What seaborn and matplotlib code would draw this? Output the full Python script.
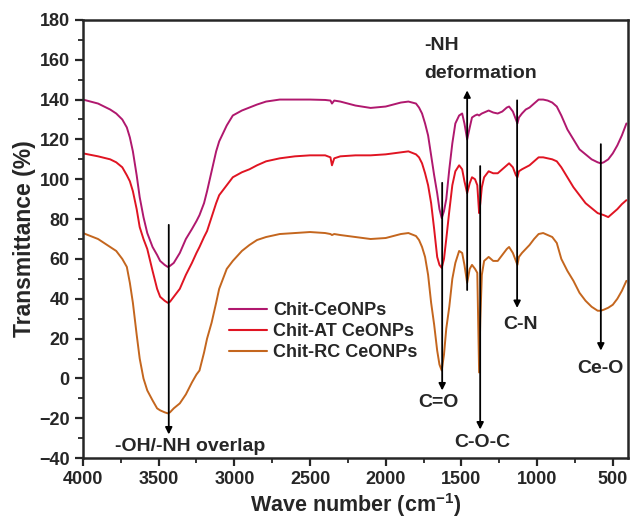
import numpy as np
import pandas as pd
import matplotlib
matplotlib.use('Agg')
import matplotlib.pyplot as plt
from matplotlib.ticker import MultipleLocator
import seaborn as sns

# ---------------------------
# data
# ---------------------------
wavenumber = [4000, 3900, 3820, 3780, 3740, 3710, 3690, 3670, 3645, 3625, 3600, 3575,
              3540, 3510, 3490, 3460, 3440, 3425, 3400, 3360, 3320, 3280, 3250, 3230,
              3200, 3180, 3150, 3120, 3100, 3050, 3010, 2950, 2900, 2850, 2790, 2700,
              2600, 2500, 2400, 2365, 2355, 2340, 2300, 2200, 2100, 2000, 1900, 1850,
              1800, 1780, 1760, 1740, 1720, 1700, 1680, 1660, 1645, 1630, 1615, 1600,
              1580, 1560, 1540, 1515, 1495, 1480, 1462, 1445, 1430, 1410, 1395, 1383,
              1375, 1365, 1350, 1320, 1290, 1260, 1230, 1200, 1185, 1160, 1140, 1130,
              1120, 1100, 1075, 1050, 1020, 990, 960, 930, 900, 870, 840, 800,
              760, 720, 680, 640, 600, 580, 560, 530, 500, 470, 440, 410]

chit_ceonps = [140, 138, 135, 133, 130, 126, 121, 114, 102, 91, 81, 73,
               66, 62, 59, 57, 56, 56.5, 58, 63, 70, 75, 79, 82,
               88, 94, 104, 114, 119, 127, 132, 134.5, 136, 137.5, 139, 140,
               140, 140, 139.8, 139.5, 138, 139.5, 139, 137, 135.8, 136.5, 138.5, 139,
               138, 136, 133, 128, 122, 112, 102, 93, 85, 80.5, 84, 90,
               105, 118, 128, 132, 133, 128, 120, 126, 131, 132, 132.5, 132,
               132.5, 133, 133.5, 134.5, 133.5, 133, 134, 136, 136.5, 134, 130, 128,
               131, 133, 135, 136, 138, 140, 140, 139.5, 138.5, 136.5, 132, 125,
               120, 115, 112.5, 110, 108.5, 108, 108.5, 110, 113, 117, 122, 128]

chit_at_ceonps = [113, 111.5, 110, 108.5, 106, 102, 99, 94, 85, 76, 70, 65,
                  54, 45, 41, 39, 38, 38.5, 41, 45, 52, 58, 63, 66,
                  71, 74, 81, 88, 92, 97, 101, 103.5, 105, 107, 109, 110.5,
                  111.5, 112, 112, 111, 107, 110.5, 111.5, 112, 112, 112.5, 113.5, 114,
                  112.5, 111, 108, 103, 97, 88, 75, 61, 57, 55.5, 60, 70,
                  84, 97, 104, 107, 105, 99, 93, 98, 101, 100, 97, 83,
                  88, 96, 101, 104, 103, 103, 105, 107, 108, 106, 102, 101,
                  104, 105, 106, 107, 109, 111, 111, 110.5, 110, 109, 106, 101,
                  96, 92, 88, 85.5, 83, 82.5, 82, 81, 83, 85, 87.5, 89.5]

chit_rc_ceonps = [73, 70, 66, 64, 60, 56, 48, 38, 22, 10, 0, -6,
                  -11, -15, -16, -17, -17.5, -17, -15, -12.5, -8, -2, 2, 4,
                  13, 20, 28, 38, 45, 55, 59, 64, 67, 69.5, 71, 72.5,
                  73, 73.5, 73, 72.5, 72, 72.5, 72, 71, 70, 70.5, 72.5, 73,
                  71.5, 69.5, 66, 61, 52, 38, 27, 14, 7, 4, 12, 25,
                  36, 50, 58, 64, 63, 57, 48, 55, 57, 55, 53, 3,
                  30, 52, 59, 61, 59, 59, 62, 65, 66, 63, 59, 57,
                  61, 63, 65, 67, 70, 72.5, 73, 72, 71, 68, 60, 54,
                  49, 43, 39, 36, 34, 34, 34.5, 35.5, 37, 40, 44, 49]

samples = ['Chit-CeONPs', 'Chit-AT CeONPs', 'Chit-RC CeONPs']
colors = ['#B0186E', '#E01422', '#C4661E']

# band assignments: (label, x of arrow, arrow tail y, arrow head y, text x, text y)
bands = [
    ('-OH/-NH overlap', 3433, 78.5, -29.5, 3290, -34),
    ('C=O', 1627, 99.6, -7.4, 1653, -12),
    ('C-O-C', 1376, 108, -27, 1363, -32),
    ('C-N', 1132, 141, 34, 1106, 27),
    ('Ce-O', 579, 119, 12.6, 579, 5),
]

df = pd.DataFrame({
    'Wave number': wavenumber * 3,
    'Transmittance': chit_ceonps + chit_at_ceonps + chit_rc_ceonps,
    'Sample': [s for s in samples for _ in wavenumber],
})

# ---------------------------
# style
# ---------------------------
sns.set_style('ticks')
plt.rcParams['font.family'] = ['Liberation Sans', 'DejaVu Sans']
plt.rcParams['font.weight'] = 'bold'
plt.rcParams['mathtext.fontset'] = 'custom'
plt.rcParams['mathtext.rm'] = 'Liberation Sans:bold'
plt.rcParams['mathtext.bf'] = 'Liberation Sans:bold'
plt.rcParams['mathtext.default'] = 'bf'

fig = plt.figure(figsize=(6.33, 5.23), dpi=100)
ax = fig.add_axes([0.131, 0.124, 0.861, 0.838])

sns.lineplot(data=df, x='Wave number', y='Transmittance', hue='Sample',
             palette=colors, hue_order=samples, estimator=None, lw=1.4, ax=ax)

ax.set_xlim(4000, 400)
ax.set_ylim(-40, 180)
ax.xaxis.set_major_locator(MultipleLocator(500))
ax.xaxis.set_minor_locator(MultipleLocator(250))
ax.yaxis.set_major_locator(MultipleLocator(20))
ax.yaxis.set_minor_locator(MultipleLocator(10))
ax.tick_params(which='major', direction='out', length=6, width=1.6, labelsize=13)
ax.tick_params(which='minor', direction='out', length=3.5, width=1.3)
for lab in ax.get_xticklabels() + ax.get_yticklabels():
    lab.set_fontweight('bold')
for sp in ax.spines.values():
    sp.set_linewidth(1.8)
    sp.set_visible(True)

ax.set_xlabel(r'Wave number (cm$^{-1}$)', fontsize=15.5, fontweight='bold', labelpad=2)
ax.set_ylabel('Transmittance (%)', fontsize=16.5, fontweight='bold', labelpad=2)

# arrows and labels for the bands
for label, xa, y0, y1, xt, yt in bands:
    ax.annotate('', xy=(xa, y1), xytext=(xa, y0),
                arrowprops=dict(arrowstyle='-|>', color='black', lw=1.3, mutation_scale=10))
    ax.text(xt, yt, label, ha='center', va='center', fontsize=14, fontweight='bold')

# -NH deformation points upwards
ax.annotate('', xy=(1462, 146), xytext=(1462, 43),
            arrowprops=dict(arrowstyle='-|>', color='black', lw=1.3, mutation_scale=10))
ax.text(1745, 167, '-NH', ha='left', va='center', fontsize=14, fontweight='bold')
ax.text(1745, 153, 'deformation', ha='left', va='center', fontsize=14, fontweight='bold')

leg = ax.legend(loc='upper left', bbox_to_anchor=(0.268, 0.356), frameon=False,
                fontsize=13, handlelength=2.1, handletextpad=0.35, labelspacing=0.22,
                borderpad=0, borderaxespad=0)
for t in leg.get_texts():
    t.set_fontweight('bold')
for h in leg.get_lines():
    h.set_linewidth(1.5)

plt.savefig('out.png', dpi=100)
